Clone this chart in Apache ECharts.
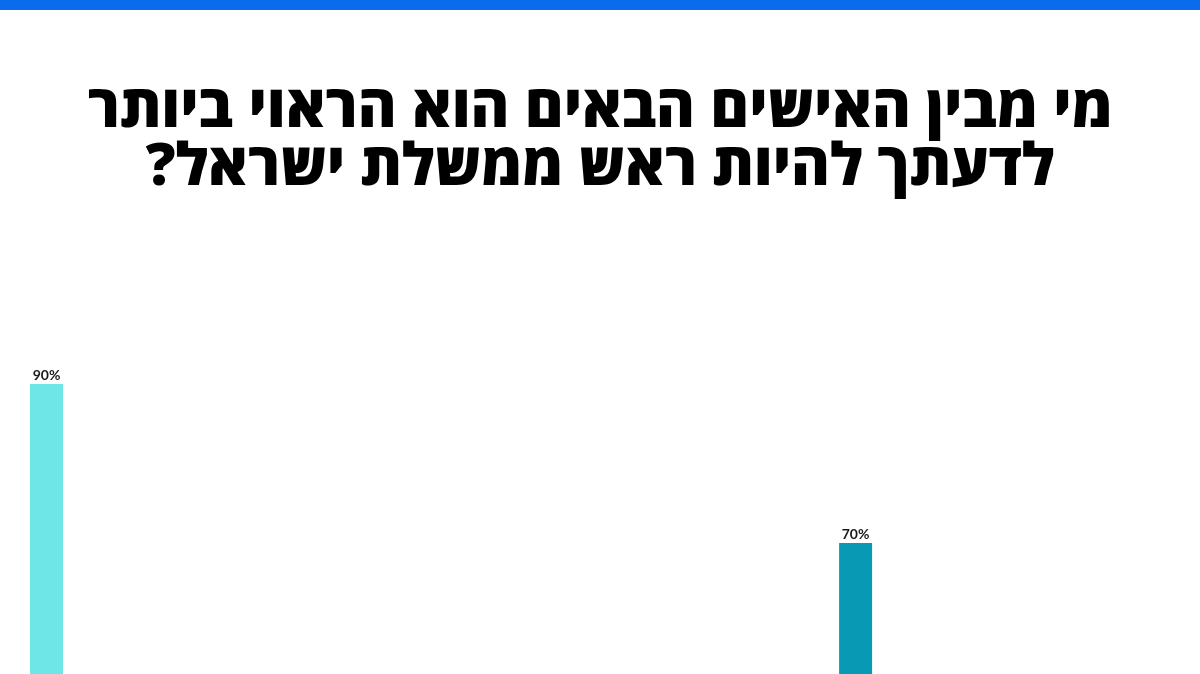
<!DOCTYPE html>
<html>
<head>
<meta charset="utf-8">
<script src="https://cdn.jsdelivr.net/npm/echarts@6/dist/echarts.min.js"></script>
<style>
html,body{margin:0;padding:0;background:#fff;}
#chart{width:1200px;height:674px;}
</style>
</head>
<body>
<div id="chart"></div>
<script>
// Title text (two lines, as in the reference)
var titleLines = ['מי מבין האישים הבאים הוא הראוי ביותר', 'לדעתך להיות ראש ממשלת ישראל?'];
// Category slots along the x axis (labels lie below the visible crop)
var categories = ['1', '2', '3', '4', '5', '6', '7', '8', '9', '10'];
// Values in percent; null where no bar is visible in the crop
var values = [90, null, null, null, null, null, null, null, null, 70];
// Bar colours per slot
var barColors = ['#6ee6e8', '#6ee6e8', '#6ee6e8', '#6ee6e8', '#6ee6e8', '#6ee6e8', '#6ee6e8', '#6ee6e8', '#6ee6e8', '#089ab5'];

var RLM = '\u200F';
var chart = echarts.init(document.getElementById('chart'));
chart.setOption({
  backgroundColor: '#ffffff',
  animation: false,
  graphic: [{
    type: 'rect',
    left: 0, top: 0,
    shape: {width: 1200, height: 10},
    style: {fill: '#0a6cec'}
  }],
  title: {
    text: titleLines.map(function (l) { return RLM + l + RLM; }).join('\n'),
    left: 'center',
    top: 76,
    textStyle: {
      fontFamily: '"Open Sans", sans-serif',
      fontWeight: 800,
      fontSize: 59,
      lineHeight: 58,
      color: '#000000'
    }
  },
  grid: {left: 1.55, width: 899, top: 304.5, height: 795, containLabel: false, outerBoundsMode: 'none'},
  xAxis: {
    type: 'category',
    data: categories,
    axisLine: {show: false},
    axisTick: {show: false},
    axisLabel: {show: false}
  },
  yAxis: {
    type: 'value',
    min: 0, max: 100,
    show: false,
    splitLine: {show: false}
  },
  series: [{
    type: 'bar',
    barWidth: 33,
    data: values.map(function (v, i) {
      return {value: v, itemStyle: {color: barColors[i]}};
    }),
    label: {
      show: true,
      position: 'top',
      distance: 2,
      formatter: function (p) { return p.value + '%'; },
      fontFamily: 'Lato, "Open Sans", sans-serif',
      fontWeight: 'bold',
      fontSize: 14,
      color: '#1a1a1a'
    }
  }]
});
</script>
</body>
</html>
